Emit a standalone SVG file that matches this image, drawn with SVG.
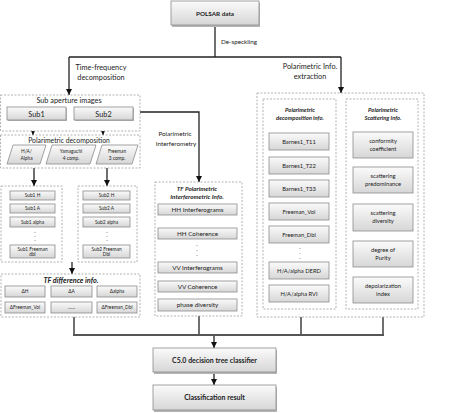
<svg xmlns="http://www.w3.org/2000/svg" width="474" height="413" viewBox="0 0 474 413">
<defs>
<linearGradient id="g" x1="0" y1="0" x2="0" y2="1">
<stop offset="0" stop-color="#fbfbfb"/>
<stop offset="1" stop-color="#d6d6d6"/>
</linearGradient>
<marker id="ah" viewBox="0 0 10 10" refX="10" refY="5" markerWidth="6" markerHeight="6" markerUnits="userSpaceOnUse" orient="auto">
<path d="M0,0 L10,5 L0,10 z" fill="#111"/>
</marker>
</defs>
<style>
text{font-family:Lato,"Open Sans","Liberation Sans",sans-serif;fill:#222;text-anchor:middle}
.box{fill:url(#g);stroke:#8c8c8c;stroke-width:0.8}
.sh{fill:#b5b5b5}
.grp{fill:#fff;stroke:#a0a0a0;stroke-width:0.8;stroke-dasharray:2,1.5}
.ln{fill:none;stroke:#222;stroke-width:1.3}
.ln2{fill:none;stroke:#555;stroke-width:2}
.t{font-size:6.3px}
.tm{font-size:5.8px}
.ts{font-size:4.8px}
.tl{font-size:7.3px}
.b{font-weight:bold}
.bi{font-weight:bold;font-style:italic}
</style>

<g id="connectors">
<path class="ln" d="M215 25 V57"/>
<path class="ln" d="M69 57 H341"/>
<path class="ln" d="M69 57 V95" marker-end="url(#ah)"/>
<path class="ln" d="M341 57 V93" marker-end="url(#ah)"/>
<path class="ln" d="M33 120 V135" marker-end="url(#ah)"/>
<path class="ln" d="M103 120 V135" marker-end="url(#ah)"/>
<path class="ln" d="M34 168 V186" marker-end="url(#ah)"/>
<path class="ln" d="M107 168 V186" marker-end="url(#ah)"/>
<path class="ln" d="M72 262 V274" marker-end="url(#ah)"/>
<path class="ln" d="M140 112 H199 V182" marker-end="url(#ah)"/>
<path class="ln" d="M74 317 V335"/>
<path class="ln" d="M199 316 V335"/>
<path class="ln" d="M301 309 V335"/>
<path class="ln" d="M383 309 V335"/>
<path class="ln2" d="M73 335 H384"/>
<path class="ln" d="M214 336 V348" marker-end="url(#ah)"/>
<path class="ln" d="M214 372 V385" marker-end="url(#ah)"/>
<text class="t" x="221" y="44" style="text-anchor:start">De-speckling</text>
<text class="tl" x="101" y="70">Time-frequency</text>
<text class="tl" x="101" y="80">decomposition</text>
<text class="tl" x="310" y="69">Polarimetric Info.</text>
<text class="tl" x="310" y="79">extraction</text>
<text class="t" x="175" y="136">Polarimetric</text>
<text class="t" x="176" y="146">Interferometry</text>
</g>

<g id="polsar">
<rect class="sh" x="172" y="3" width="88" height="24"/>
<rect class="box" x="171" y="1" width="88" height="24"/>
<text class="t b" x="215" y="15.5">POLSAR data</text>
</g>

<g id="sub-aperture">
<rect class="grp" x="0.5" y="95" width="139.5" height="36"/>
<text class="tl" x="69" y="103">Sub aperture images</text>
<rect class="sh" x="8" y="108" width="59" height="13"/>
<rect class="box" x="7" y="107" width="59" height="13"/>
<text class="tl" x="36.5" y="116.5">Sub1</text>
<rect class="sh" x="75" y="108" width="59" height="13"/>
<rect class="box" x="74" y="107" width="59" height="13"/>
<text class="tl" x="103.5" y="116.5">Sub2</text>
</g>

<g id="pol-decomposition">
<rect class="grp" x="0.5" y="135" width="139.5" height="33"/>
<text class="tl" x="69" y="143" style="font-size:6.8px">Polarimetric decomposition</text>
<polygon class="box" points="13,145 46,145 40,164 7,164"/>
<text class="ts" x="26.5" y="153">H/A/</text>
<text class="ts" x="26.5" y="160">Alpha</text>
<polygon class="box" points="52,145 96,145 90,164 46,164"/>
<text class="ts" x="71" y="153">Yamaguchi</text>
<text class="ts" x="71" y="160">4 comp.</text>
<polygon class="box" points="102,145 138,145 132,164 96,164"/>
<text class="ts" x="117" y="153">Freeman</text>
<text class="ts" x="117" y="160">3 comp.</text>
</g>

<g id="sub1-column">
<rect class="grp" x="1" y="186" width="61" height="76"/>
<rect class="box" x="10" y="191" width="45" height="9"/>
<text class="ts" x="32.5" y="197.3">Sub1 H</text>
<rect class="box" x="10" y="204" width="45" height="9"/>
<text class="ts" x="32.5" y="210.3">Sub1 A</text>
<rect class="box" x="10" y="217" width="45" height="10"/>
<text class="ts" x="32.5" y="223.8">Sub1 alpha</text>
<text class="t" x="35" y="233">.</text>
<text class="t" x="35" y="237">.</text>
<text class="t" x="35" y="241">.</text>
<rect class="box" x="10" y="245" width="45" height="13"/>
<text class="ts" x="32.5" y="250.5">Sub1 Freeman</text>
<text class="ts" x="32.5" y="256">dbl</text>
</g>

<g id="sub2-column">
<rect class="grp" x="78" y="186" width="59" height="76"/>
<rect class="box" x="83" y="191" width="47" height="9"/>
<text class="ts" x="106.5" y="197.3">Sub2 H</text>
<rect class="box" x="83" y="204" width="47" height="9"/>
<text class="ts" x="106.5" y="210.3">Sub2 A</text>
<rect class="box" x="83" y="217" width="47" height="10"/>
<text class="ts" x="106.5" y="223.8">Sub2 alpha</text>
<text class="t" x="107" y="233">.</text>
<text class="t" x="107" y="237">.</text>
<text class="t" x="107" y="241">.</text>
<rect class="box" x="83" y="245" width="47" height="13"/>
<text class="ts" x="106.5" y="250.5">Sub2 Freeman</text>
<text class="ts" x="106.5" y="256">Dbl</text>
</g>

<g id="tf-difference">
<rect class="grp" x="1" y="274" width="139" height="43"/>
<text class="tl bi" x="71" y="282.5">TF difference info.</text>
<rect class="box" x="5" y="286" width="40" height="11"/>
<text class="ts" x="25" y="293">ΔH</text>
<rect class="box" x="51" y="286" width="41" height="11"/>
<text class="ts" x="71.5" y="293">ΔA</text>
<rect class="box" x="97" y="286" width="40" height="11"/>
<text class="ts" x="117" y="293">Δalpha</text>
<rect class="box" x="5" y="302" width="40" height="11"/>
<text class="ts" x="25" y="309">ΔFreeman_Vol</text>
<rect class="box" x="51" y="302" width="41" height="11"/>
<text class="ts" x="71.5" y="309">……</text>
<rect class="box" x="97" y="302" width="40" height="11"/>
<text class="ts" x="117" y="309">ΔFreeman_Dbl</text>
</g>

<g id="tf-pol-interferometric">
<rect class="grp" x="155" y="182" width="87" height="134"/>
<text class="t bi" x="197" y="191">TF Polarimetric</text>
<text class="t bi" x="197" y="199">Interferometric Info.</text>
<rect class="box" x="158" y="204" width="79" height="11"/>
<text class="t" x="197.5" y="211.7">HH Interferograms</text>
<rect class="box" x="158" y="228" width="79" height="11"/>
<text class="t" x="197.5" y="235.7">HH Coherence</text>
<text class="t" x="197" y="246">.</text>
<text class="t" x="197" y="251">.</text>
<text class="t" x="197" y="256">.</text>
<rect class="box" x="158" y="262" width="79" height="11"/>
<text class="t" x="197.5" y="269.7">VV Interferograms</text>
<rect class="box" x="158" y="281" width="79" height="11"/>
<text class="t" x="197.5" y="288.7">VV Coherence</text>
<rect class="box" x="158" y="299" width="79" height="12"/>
<text class="t" x="197.5" y="307.2">phase diversity</text>
</g>

<g id="pol-info">
<rect class="grp" x="257" y="93" width="167" height="224"/>
</g>

<g id="pol-decomposition-info">
<rect class="grp" x="263" y="99" width="73" height="210"/>
<text class="tm bi" x="300" y="112">Polarimetric</text>
<text class="tm bi" x="300" y="120">decomposition info.</text>
<rect class="box" x="269" y="133" width="60" height="17"/>
<text class="tm" x="299" y="143.5">Barnes1_T11</text>
<rect class="box" x="269" y="157" width="60" height="17"/>
<text class="tm" x="299" y="167.5">Barnes1_T22</text>
<rect class="box" x="269" y="180" width="60" height="17"/>
<text class="tm" x="299" y="190.5">Barnes1_T33</text>
<rect class="box" x="269" y="203" width="60" height="17"/>
<text class="tm" x="299" y="213.5">Freeman_Vol</text>
<rect class="box" x="269" y="226" width="60" height="17"/>
<text class="tm" x="299" y="236.5">Freeman_Dbl</text>
<text class="t" x="300" y="249">.</text>
<text class="t" x="300" y="254">.</text>
<text class="t" x="300" y="259">.</text>
<rect class="box" x="269" y="262" width="60" height="17"/>
<text class="tm" x="299" y="272.5">H/A/alpha DERD</text>
<rect class="box" x="269" y="285" width="60" height="17"/>
<text class="tm" x="299" y="295.5">H/A/alpha RVI</text>
</g>

<g id="pol-scattering-info">
<rect class="grp" x="346" y="99" width="72" height="210"/>
<text class="tm bi" x="383" y="112">Polarimetric</text>
<text class="tm bi" x="383" y="120">Scattering Info.</text>
<rect class="box" x="353" y="132" width="60" height="26"/>
<text class="tm" x="383" y="143">conformity</text>
<text class="tm" x="383" y="151">coefficient</text>
<rect class="box" x="353" y="167" width="60" height="26"/>
<text class="tm" x="383" y="178">scattering</text>
<text class="tm" x="383" y="186">predominance</text>
<rect class="box" x="353" y="204" width="60" height="27"/>
<text class="tm" x="383" y="215">scattering</text>
<text class="tm" x="383" y="223">diversity</text>
<rect class="box" x="353" y="241" width="60" height="26"/>
<text class="tm" x="383" y="252">degree of</text>
<text class="tm" x="383" y="260">Purity</text>
<rect class="box" x="353" y="277" width="60" height="26"/>
<text class="tm" x="383" y="288">depolarization</text>
<text class="tm" x="383" y="296">index</text>
</g>

<g id="classifier">
<rect class="sh" x="154" y="350" width="123" height="24"/>
<rect class="box" x="153" y="348" width="123" height="24"/>
<text class="b" x="214.5" y="362.5" style="font-size:7px">C5.0 decision tree classifier</text>
</g>

<g id="result">
<rect class="sh" x="154" y="387" width="123" height="25"/>
<rect class="box" x="153" y="385" width="123" height="25"/>
<text class="b" x="214.5" y="400" style="font-size:7px">Classification result</text>
</g>
</svg>
